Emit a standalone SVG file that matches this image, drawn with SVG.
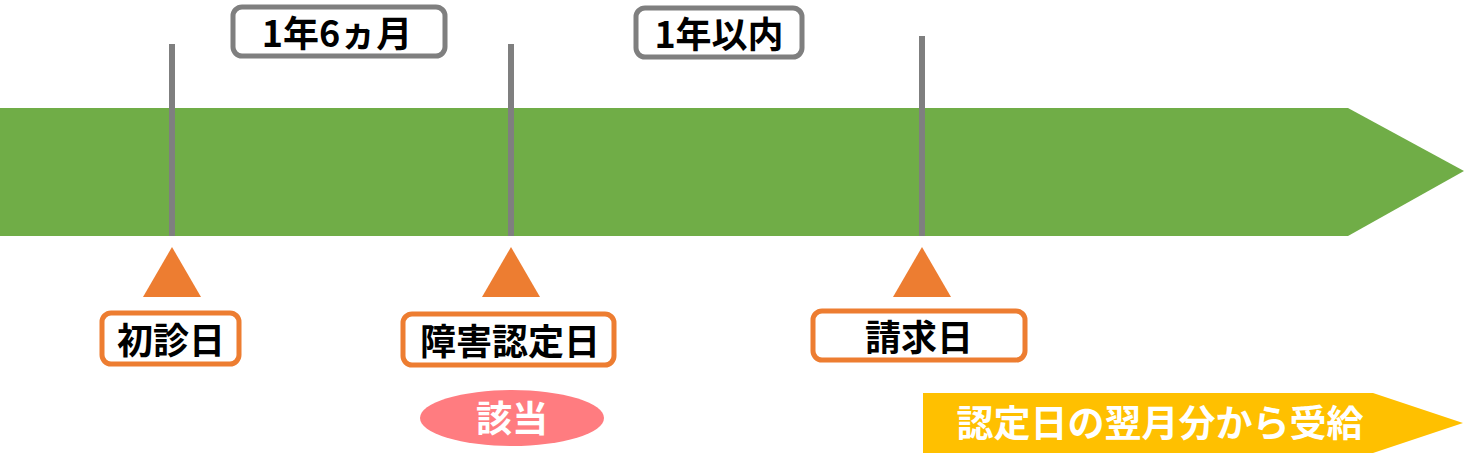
<svg xmlns="http://www.w3.org/2000/svg" width="1465" height="469" viewBox="0 0 1465 469">
<style>
.t{font-family:"Noto Sans CJK JP","Noto Sans",sans-serif;font-weight:bold;font-size:36px;text-anchor:middle;dominant-baseline:central}
.gbox{fill:#fff;stroke:#7f7f7f;stroke-width:5}
.obox{fill:#fff;stroke:#ED7D31;stroke-width:5}
.tick{stroke:#7f7f7f;stroke-width:6}
.tri{fill:#ED7D31}
</style>
<rect width="1465" height="469" fill="#fff"/>
<g id="timeline"><polygon points="0,108 1348,108 1464,171 1348,236 0,236" fill="#70AD47"/></g>
<g id="connectors">
<line class="tick" x1="172" y1="44" x2="172" y2="236"/>
<line class="tick" x1="511" y1="44" x2="511" y2="236"/>
<line class="tick" x1="922" y1="36" x2="922" y2="236"/>
<polygon class="tri" points="172,247 201,297 143,297"/>
<polygon class="tri" points="511,247 540,297 482,297"/>
<polygon class="tri" points="922,247 951,297 893,297"/>
</g>
<g id="period1"><rect class="gbox" x="233" y="7" width="212" height="49" rx="9"/><text class="t" x="337" y="31">1年6ヵ月</text></g>
<g id="period2"><rect class="gbox" x="636" y="8" width="166" height="49" rx="9"/><text class="t" x="719" y="32">1年以内</text></g>
<g id="shoshin"><rect class="obox" x="102" y="313" width="137" height="51" rx="9"/><text class="t" x="171" y="338">初診日</text></g>
<g id="nintei"><rect class="obox" x="403" y="314" width="211" height="51" rx="9"/><text class="t" x="510" y="339">障害認定日</text></g>
<g id="seikyu"><rect class="obox" x="813" y="311" width="212" height="49" rx="9"/><text class="t" x="919" y="335">請求日</text></g>
<g id="gaitou"><ellipse cx="512" cy="418" rx="92" ry="28" fill="#FF7C80"/><text class="t" x="512" y="416" fill="#fff">該当</text></g>
<g id="jukyu"><polygon points="923,393 1373,393 1463,423 1373,453 923,453" fill="#FFC000"/><text class="t" x="1160" y="421" fill="#fff" style="font-size:37px">認定日の翌月分から受給</text></g>
</svg>
